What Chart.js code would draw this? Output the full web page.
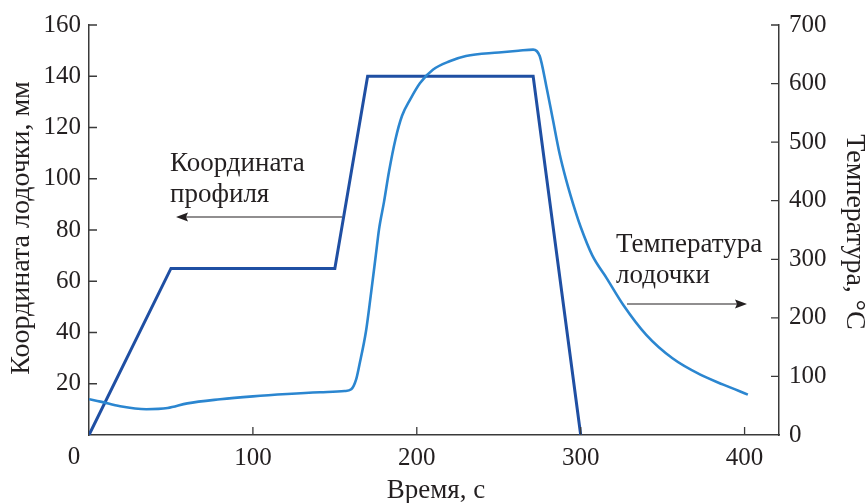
<!DOCTYPE html>
<html>
<head>
<meta charset="utf-8">
<script src="https://cdn.jsdelivr.net/npm/chart.js@4.4.0/dist/chart.umd.min.js"></script>
<style>
  html, body { margin: 0; padding: 0; background: #fff; }
</style>
</head>
<body>
<canvas id="graphic-lodochka" width="867" height="503"></canvas>
<script>
// Координата профиля (мм) по времени (с)
const profileTime = [0, 50, 150, 170, 271, 300];
const profileCoord = [0, 65, 65, 140, 140, 0];

// Температура лодочки (°C) по времени (с)
const tempTime = [0, 7, 19, 35, 48, 60, 80, 100, 121, 141, 156, 160, 163, 165, 169, 172, 175, 177, 180, 183, 187, 191, 196, 202, 210, 220, 230, 250, 262, 271, 275, 279, 283, 287, 291, 297, 300, 307, 316, 326, 340, 356, 373, 387, 402];
const tempValue = [61, 57, 49, 44, 46, 54, 61, 66, 70, 73, 75, 78, 95, 120, 177, 240, 307, 352, 398, 449, 505, 545, 573, 601, 624, 638, 647, 653, 656, 658, 647, 596, 539, 482, 437, 380, 355, 307, 267, 222, 171, 131, 103, 86, 69];

const xTicks = [0, 100, 200, 300, 400];
const leftTicks = [0, 20, 40, 60, 80, 100, 120, 140, 160];
const rightTicks = [0, 100, 200, 300, 400, 500, 600, 700];

const FONT = '"Liberation Serif", "DejaVu Serif", serif';
const INK = '#231f20';
const AXIS = '#3a3a3a';

const toPoints = (xs, ys) => xs.map((x, i) => ({ x: x, y: ys[i] }));

// засечки внутрь, подписи и стрелки
const extras = {
    id: 'extras',
    afterDraw(chart) {
        const ctx = chart.ctx;
        const a = chart.chartArea;
        const sx = chart.scales.x, sy = chart.scales.y, sy2 = chart.scales.y2;
        ctx.save();
        ctx.strokeStyle = AXIS;
        ctx.lineWidth = 1.3;
        ctx.beginPath();
        xTicks.forEach(v => {
            if (v === 0) return;
            const px = sx.getPixelForValue(v);
            ctx.moveTo(px, a.bottom); ctx.lineTo(px, a.bottom - 8);
        });
        leftTicks.forEach(v => {
            if (v === 0) return;
            const py = sy.getPixelForValue(v);
            ctx.moveTo(a.left, py); ctx.lineTo(a.left + 8, py);
        });
        rightTicks.forEach(v => {
            if (v === 0) return;
            const py = sy2.getPixelForValue(v);
            ctx.moveTo(a.right, py); ctx.lineTo(a.right - 8, py);
        });
        ctx.stroke();

        ctx.fillStyle = INK;
        ctx.font = '25px ' + FONT;
        ctx.textAlign = 'center';
        ctx.textBaseline = 'middle';
        ctx.fillText('0', 74, 457);

        // подписи осей
        ctx.font = '27px ' + FONT;
        ctx.fillText('Время, с', 436, 491);
        ctx.font = '28px ' + FONT;
        ctx.save();
        ctx.translate(22, 228);
        ctx.rotate(-Math.PI / 2);
        ctx.fillText('Координата лодочки, мм', 0, 0);
        ctx.restore();
        ctx.save();
        ctx.translate(854, 232);
        ctx.rotate(Math.PI / 2);
        ctx.fillText('Температура, °С', 0, 0);
        ctx.restore();

        // надписи на поле
        ctx.font = '27px ' + FONT;
        ctx.textAlign = 'left';
        ctx.fillText('Координата', 170, 164);
        ctx.fillText('профиля', 170, 195);
        ctx.fillText('Температура', 616, 245);
        ctx.fillText('лодочки', 616, 276);

        // стрелки
        ctx.strokeStyle = INK;
        ctx.lineWidth = 1.2;
        ctx.beginPath();
        ctx.moveTo(342, 217); ctx.lineTo(184, 217);
        ctx.moveTo(627, 304); ctx.lineTo(739, 304);
        ctx.stroke();
        ctx.beginPath();
        ctx.moveTo(176, 217); ctx.lineTo(188, 212.5); ctx.lineTo(186, 217); ctx.lineTo(188, 221.5); ctx.closePath();
        ctx.moveTo(747, 304); ctx.lineTo(735, 299.5); ctx.lineTo(737, 304); ctx.lineTo(735, 308.5); ctx.closePath();
        ctx.fill();
        ctx.restore();
    }
};

new Chart(document.getElementById('graphic-lodochka'), {
    type: 'line',
    data: {
        datasets: [{
            label: 'Температура лодочки',
            data: toPoints(tempTime, tempValue),
            yAxisID: 'y2',
            borderColor: '#2b86d0',
            borderWidth: 2.6,
            pointRadius: 0,
            cubicInterpolationMode: 'monotone',
            fill: false
        }, {
            label: 'Координата профиля',
            data: toPoints(profileTime, profileCoord),
            yAxisID: 'y',
            borderColor: '#1f4fa3',
            borderWidth: 3,
            pointRadius: 0,
            tension: 0,
            borderJoinStyle: 'miter',
            fill: false
        }]
    },
    options: {
        responsive: false,
        maintainAspectRatio: false,
        animation: false,
        layout: { padding: { top: 22, left: 0, right: 0, bottom: 0 } },
        scales: {
            x: {
                type: 'linear',
                min: 0,
                max: 421,
                afterBuildTicks: s => { s.ticks = xTicks.map(v => ({ value: v })); },
                afterFit: s => { s.height = 68; },
                grid: { display: false, drawTicks: false },
                border: { display: true, color: AXIS, width: 1.5 },
                ticks: {
                    padding: 8,
                    color: INK,
                    font: { family: FONT, size: 25 },
                    callback: v => (v === 0 ? '' : v)
                }
            },
            y: {
                position: 'left',
                min: 0,
                max: 160,
                afterBuildTicks: s => { s.ticks = leftTicks.map(v => ({ value: v })); },
                afterFit: s => { s.width = 89; },
                grid: { display: false, drawTicks: false },
                border: { display: true, color: AXIS, width: 1.5 },
                ticks: {
                    padding: 8,
                    color: INK,
                    font: { family: FONT, size: 25 },
                    callback: v => (v === 0 ? '' : v)
                }
            },
            y2: {
                position: 'right',
                min: 0,
                max: 700,
                afterBuildTicks: s => { s.ticks = rightTicks.map(v => ({ value: v })); },
                afterFit: s => { s.width = 88; },
                grid: { display: false, drawTicks: false },
                border: { display: true, color: AXIS, width: 1.5 },
                ticks: {
                    padding: 10,
                    color: INK,
                    font: { family: FONT, size: 25 }
                }
            }
        },
        plugins: {
            legend: { display: false },
            tooltip: { enabled: false }
        }
    },
    plugins: [extras]
});
</script>
</body>
</html>
